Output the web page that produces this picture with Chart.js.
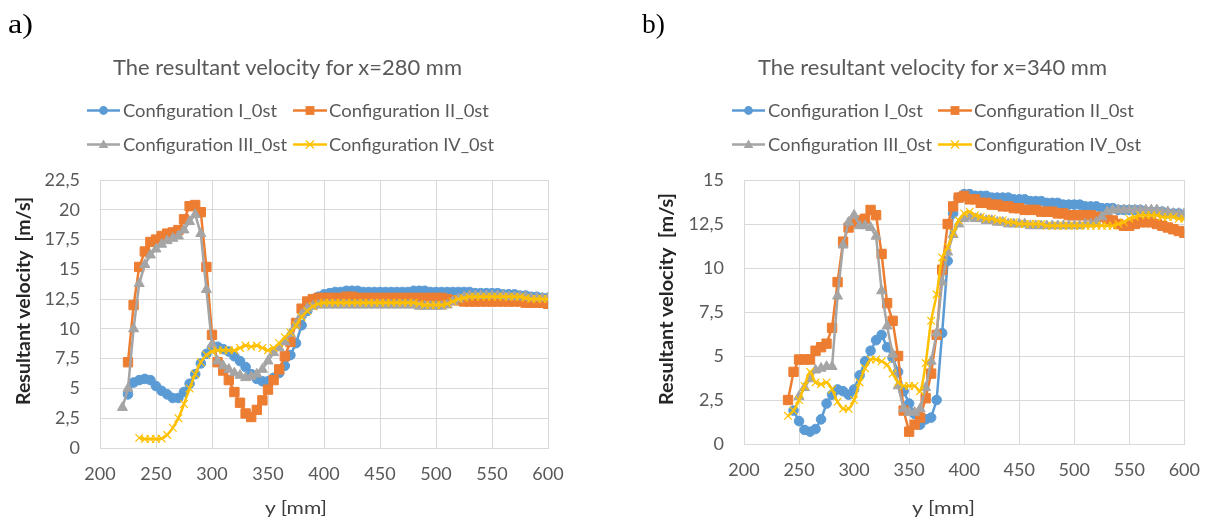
<!DOCTYPE html>
<html>
<head>
<meta charset="utf-8">
<script src="https://cdn.jsdelivr.net/npm/chart.js@4.4.1/dist/chart.umd.min.js"></script>
<style>
  html, body { margin:0; padding:0; background:#ffffff; }
  #wrap { position:relative; width:1215px; height:519px; overflow:hidden; background:#fff; }
  canvas { position:absolute; top:0; }
  #cA { left:0; }
  #cB { left:607px; }
  #ov { position:absolute; left:0; top:0; pointer-events:none; }
</style>
</head>
<body>
<div id="wrap">
  <canvas id="cA" width="607" height="519"></canvas>
  <canvas id="cB" width="608" height="519"></canvas>
  <svg id="ov" width="1215" height="519" xmlns="http://www.w3.org/2000/svg"></svg>
</div>
<script>
// ---------------- DATA ----------------
const seriesNames = ['Configuration I_0st', 'Configuration II_0st', 'Configuration III_0st', 'Configuration IV_0st'];

const xTickValues = [200, 250, 300, 350, 400, 450, 500, 550, 600];
const xTickLabels = ['200', '250', '300', '350', '400', '450', '500', '550', '600'];

const yTickValuesA = [0, 2.5, 5, 7.5, 10, 12.5, 15, 17.5, 20, 22.5];
const yTickLabelsA = ['0', '2,5', '5', '7,5', '10', '12,5', '15', '17,5', '20', '22,5'];
const yTickValuesB = [0, 2.5, 5, 7.5, 10, 12.5, 15];
const yTickLabelsB = ['0', '2,5', '5', '7,5', '10', '12,5', '15'];

// Chart a) x = 280 mm : y positions [mm]
const yPosA = [220,225,230,235,240,245,250,255,260,265,270,275,280,285,290,295,300,305,310,315,
  320,325,330,335,340,345,350,355,360,365,370,375,380,385,390,395,400,405,410,415,
  420,425,430,435,440,445,450,455,460,465,470,475,480,485,490,495,500,505,510,515,
  520,525,530,535,540,545,550,555,560,565,570,575,580,585,590,595,600];

const velA_I = [null,4.5,5.5,5.7,5.8,5.7,5.2,4.8,4.5,4.2,4.2,4.7,5.4,6.2,7.1,7.9,8.4,8.5,8.3,8.1,
  7.7,7.3,6.8,6.2,5.8,5.6,5.6,5.9,6.3,6.9,7.8,8.8,10.3,11.5,12.3,12.7,12.9,13.0,13.1,13.1,
  13.2,13.2,13.2,13.1,13.1,13.1,13.1,13.1,13.1,13.1,13.1,13.1,13.2,13.2,13.2,13.1,13.1,13.1,13.1,13.1,
  13.1,13.1,13.1,13.0,13.0,13.0,13.0,13.0,12.9,12.9,12.9,12.8,12.8,12.7,12.7,12.6,12.6];

const velA_II = [null,7.2,12.0,15.2,16.5,17.3,17.5,17.8,18.0,18.1,18.3,19.2,20.3,20.4,19.8,15.2,9.5,7.2,6.5,5.7,
  4.7,3.8,2.9,2.6,3.2,4.0,4.9,5.7,6.6,7.7,8.9,10.5,11.7,12.3,12.5,12.6,12.6,12.6,12.6,12.6,
  12.7,12.7,12.6,12.6,12.6,12.6,12.6,12.6,12.6,12.6,12.6,12.6,12.6,12.6,12.6,12.6,12.6,12.6,12.5,12.4,
  12.4,12.3,12.3,12.3,12.3,12.3,12.3,12.3,12.3,12.3,12.3,12.3,12.2,12.2,12.2,12.2,12.1];

const velA_III = [3.4,5.0,10.0,13.8,15.4,16.2,16.7,17.1,17.4,17.6,17.8,18.3,19.0,19.6,18.0,13.3,8.7,7.3,6.9,6.6,
  6.3,6.1,5.9,6.0,6.2,6.6,7.3,8.0,8.4,8.9,9.6,10.4,11.2,11.7,11.9,12.0,12.0,12.0,12.0,12.0,
  12.0,12.0,12.0,12.0,12.0,12.0,12.0,12.0,12.0,12.0,12.0,12.0,12.0,11.9,11.9,11.9,11.9,11.9,12.0,12.3,
  12.5,12.7,12.8,12.8,12.8,12.8,12.8,12.8,12.8,12.7,12.7,12.7,12.7,12.6,12.6,12.6,12.6];

const velA_IV = [null,null,null,0.85,0.75,0.75,0.75,0.8,1.1,1.7,2.5,3.7,5.0,6.2,7.2,7.8,8.1,8.2,8.2,8.2,
  8.2,8.4,8.6,8.5,8.6,8.4,8.2,8.4,8.8,9.3,9.7,10.3,11.0,11.5,11.9,12.1,12.2,12.2,12.2,12.2,
  12.2,12.2,12.2,12.2,12.2,12.2,12.2,12.2,12.2,12.2,12.2,12.2,12.2,12.1,12.0,12.0,12.0,12.0,12.1,12.3,
  12.5,12.6,12.7,12.7,12.7,12.7,12.7,12.7,12.7,12.7,12.7,12.7,12.6,12.5,12.5,12.5,12.5];

// Chart b) x = 340 mm : y positions [mm]
const yPosB = [240,245,250,255,260,265,270,275,280,285,290,295,300,305,310,315,
  320,325,330,335,340,345,350,355,360,365,370,375,380,385,390,395,400,405,410,415,
  420,425,430,435,440,445,450,455,460,465,470,475,480,485,490,495,500,505,510,515,
  520,525,530,535,540,545,550,555,560,565,570,575,580,585,590,595,600];

const velB_I = [null,1.9,1.3,0.8,0.7,0.85,1.4,2.3,2.8,3.1,3.0,2.8,3.1,3.9,4.7,5.3,
  5.9,6.2,5.5,4.9,4.1,3.0,2.3,1.7,1.1,1.4,1.5,2.5,6.3,10.4,13.1,14.0,14.2,14.2,14.1,14.1,
  14.1,14.0,14.0,14.0,14.0,13.9,13.9,13.9,13.8,13.8,13.8,13.7,13.7,13.7,13.6,13.6,13.6,13.6,13.5,13.5,
  13.5,13.4,13.4,13.4,13.3,13.3,13.3,13.3,13.3,13.2,13.2,13.2,13.2,13.1,13.1,13.1,13.0];

const velB_II = [2.5,4.1,4.8,4.8,4.8,5.3,5.5,5.7,6.6,9.2,11.5,12.3,12.6,12.7,12.8,13.3,
  13.0,10.8,8.0,7.0,5.0,1.9,0.7,1.1,1.5,2.6,4.0,6.2,9.9,12.5,13.5,14.0,14.1,13.9,13.9,13.7,
  13.7,13.6,13.6,13.5,13.5,13.4,13.4,13.3,13.3,13.3,13.2,13.2,13.2,13.1,13.1,13.0,13.0,13.0,13.0,13.0,
  12.9,12.9,12.8,12.7,12.5,12.4,12.4,12.5,12.6,12.6,12.6,12.5,12.4,12.3,12.2,12.1,12.0];

const velB_III = [null,null,2.7,3.2,3.7,4.2,4.3,4.4,4.4,8.4,11.3,12.6,13.0,12.4,12.4,12.3,
  11.8,8.7,6.7,5.1,3.3,2.0,1.8,1.8,2.0,3.2,4.7,6.3,9.2,10.9,11.9,12.5,12.8,12.9,12.8,12.8,
  12.7,12.7,12.6,12.6,12.5,12.5,12.5,12.5,12.4,12.4,12.4,12.4,12.4,12.4,12.4,12.4,12.4,12.4,12.5,12.5,
  12.6,12.9,13.2,13.3,13.3,13.3,13.3,13.3,13.3,13.3,13.3,13.3,13.2,13.2,13.1,13.1,13.1];

const velB_IV = [1.6,1.9,2.5,3.3,4.1,3.5,3.4,3.5,3.1,2.4,2.0,2.0,2.5,3.5,4.3,4.8,
  4.8,4.7,4.5,4.0,3.5,3.3,3.3,3.3,3.0,4.6,7.0,8.5,10.6,11.2,12.0,12.7,13.1,13.2,13.0,12.9,
  12.8,12.8,12.7,12.7,12.6,12.6,12.5,12.5,12.5,12.5,12.5,12.4,12.4,12.4,12.4,12.4,12.4,12.4,12.4,12.4,
  12.4,12.4,12.4,12.4,12.5,12.6,12.8,12.9,13.0,13.0,13.0,13.0,12.9,12.9,12.9,12.8,12.8];

// ---------------- STYLE ----------------
const colors = ['#5B9BD5', '#ED7D31', '#A5A5A5', '#FFC000'];
const pStyles = ['circle', 'rect', 'triangle', 'crossRot'];
const pRadius = [4.8, 6.6, 5.8, 5.4];
const tensions = [0, 0, 0, 0.35];
const sansFamily = "Lato, 'Open Sans', sans-serif";
const serifFamily = "'Liberation Serif', 'DejaVu Serif', serif";

function toPts(xs, ys) {
  const out = [];
  xs.forEach((x, i) => { if (ys[i] !== null && ys[i] !== undefined) out.push({x: x, y: ys[i]}); });
  return out;
}

function makeChart(id, xs, vals, yMax, yVals, yLabels, leftW, bottomH, padRight) {
  const datasets = vals.map((v, k) => ({
    label: seriesNames[k],
    data: toPts(xs, v),
    borderColor: colors[k],
    backgroundColor: colors[k],
    borderWidth: 2.5,
    pointStyle: pStyles[k],
    pointRadius: pRadius[k],
    pointBorderWidth: k === 3 ? 1.2 : 1,
    pointBorderColor: colors[k],
    pointBackgroundColor: colors[k],
    tension: tensions[k],
    order: 3 - k,
    fill: false
  }));
  return new Chart(document.getElementById(id), {
    type: 'line',
    data: { datasets },
    options: {
      responsive: false,
      animation: false,
      events: [],
      devicePixelRatio: 1,
      layout: { padding: { top: 180, right: padRight, bottom: 0, left: 0 } },
      plugins: { legend: { display: false }, title: { display: false }, tooltip: { enabled: false } },
      scales: {
        x: {
          type: 'linear', min: 200, max: 600,
          afterBuildTicks: s => { s.ticks = xTickValues.map(v => ({ value: v })); },
          afterFit: s => { s.height = bottomH; },
          grid: { color: '#D9D9D9', lineWidth: 1, drawTicks: false },
          border: { color: '#D9D9D9', width: 1 },
          ticks: {
            padding: 15, maxRotation: 0, autoSkip: false, color: '#595959',
            font: { family: 'Lato', size: 18 },
            callback: (v, i) => xTickLabels[i]
          }
        },
        y: {
          type: 'linear', min: 0, max: yMax,
          afterBuildTicks: s => { s.ticks = yVals.map(v => ({ value: v })); },
          afterFit: s => { s.width = leftW; },
          grid: { color: '#D9D9D9', lineWidth: 1, drawTicks: false },
          border: { color: '#D9D9D9', width: 1 },
          ticks: {
            padding: 20, color: '#595959',
            font: { family: 'Lato', size: 18 },
            callback: (v, i) => yLabels[i]
          }
        }
      }
    }
  });
}

makeChart('cA', yPosA, [velA_I, velA_II, velA_III, velA_IV], 22.5, yTickValuesA, yTickLabelsA, 100, 71, 59);
makeChart('cB', yPosB, [velB_I, velB_II, velB_III, velB_IV], 15, yTickValuesB, yTickLabelsB, 137, 75, 22);

// ---------------- TEXT & LEGEND OVERLAY ----------------
const svg = document.getElementById('ov');
const NS = 'http://www.w3.org/2000/svg';
function el(tag, attrs, t) {
  const e = document.createElementNS(NS, tag);
  for (const k in attrs) e.setAttribute(k, attrs[k]);
  if (t !== undefined) e.textContent = t;
  svg.appendChild(e);
  return e;
}
function txt(s, x, y, size, len, opts) {
  opts = opts || {};
  const a = { x: x, y: y, fill: opts.fill || '#595959' };
  if (len) { a.textLength = len; a.lengthAdjust = 'spacingAndGlyphs'; }
  if (opts.anchor) a['text-anchor'] = opts.anchor;
  if (opts.transform) a.transform = opts.transform;
  a.style = `font-family:${opts.family || sansFamily};font-size:${size}px;font-weight:${opts.weight || 'normal'};white-space:pre;`;
  return el('text', a, s);
}
function marker(k, cx, cy) {
  const c = colors[k];
  if (k === 0) el('circle', { cx: cx, cy: cy, r: 4.4, fill: c });
  else if (k === 1) el('rect', { x: cx - 4.4, y: cy - 4.4, width: 8.8, height: 8.8, fill: c });
  else if (k === 2) el('polygon', { points: `${cx},${cy - 5} ${cx + 4.8},${cy + 3.5} ${cx - 4.8},${cy + 3.5}`, fill: c });
  else {
    el('line', { x1: cx - 4, y1: cy - 4, x2: cx + 4, y2: cy + 4, stroke: c, 'stroke-width': 1.3 });
    el('line', { x1: cx - 4, y1: cy + 4, x2: cx + 4, y2: cy - 4, stroke: c, 'stroke-width': 1.3 });
  }
}
function legendItem(k, x1, x2, cy, tx, baseline, len) {
  el('line', { x1: x1, y1: cy, x2: x2, y2: cy, stroke: colors[k], 'stroke-width': 2.6 });
  marker(k, (x1 + x2) / 2, cy);
  txt(seriesNames[k], tx, baseline, 18, len);
}

// Panel labels
txt('a)', 8, 33, 27, 25, { fill: '#000', family: serifFamily });
txt('b)', 642, 33, 27, 23, { fill: '#000', family: serifFamily });

// Titles
txt('The resultant velocity for x=280 mm', 113, 75, 21.5, 349);
txt('The resultant velocity for x=340 mm', 758, 75, 21.5, 349);

// Legends a)
legendItem(0, 87, 120, 110.5, 123, 116.7, 154);
legendItem(1, 293, 327, 110.5, 329, 116.7, 160);
legendItem(2, 87, 120, 144.5, 123, 151, 164);
legendItem(3, 293, 327, 144.5, 329, 151, 165);
// Legends b)
legendItem(0, 732, 765, 110.5, 768, 116.7, 155);
legendItem(1, 938, 972, 110.5, 974, 116.7, 160);
legendItem(2, 732, 765, 144.5, 768, 151, 164);
legendItem(3, 938, 972, 144.5, 974, 151, 167);

// Axis titles
txt('Resultant velocity  [m/s]', 30, 405, 18, 208, { weight: 'bold', fill: '#262626', transform: 'rotate(-90 30 405)' });
txt('Resultant velocity  [m/s]', 673, 405, 18, 212, { weight: 'bold', fill: '#262626', transform: 'rotate(-90 673 405)' });
txt('y [mm]', 265, 514, 18, 62, { fill: '#404040' });
txt('y [mm]', 912, 514, 18, 63, { fill: '#404040' });
</script>
</body>
</html>
